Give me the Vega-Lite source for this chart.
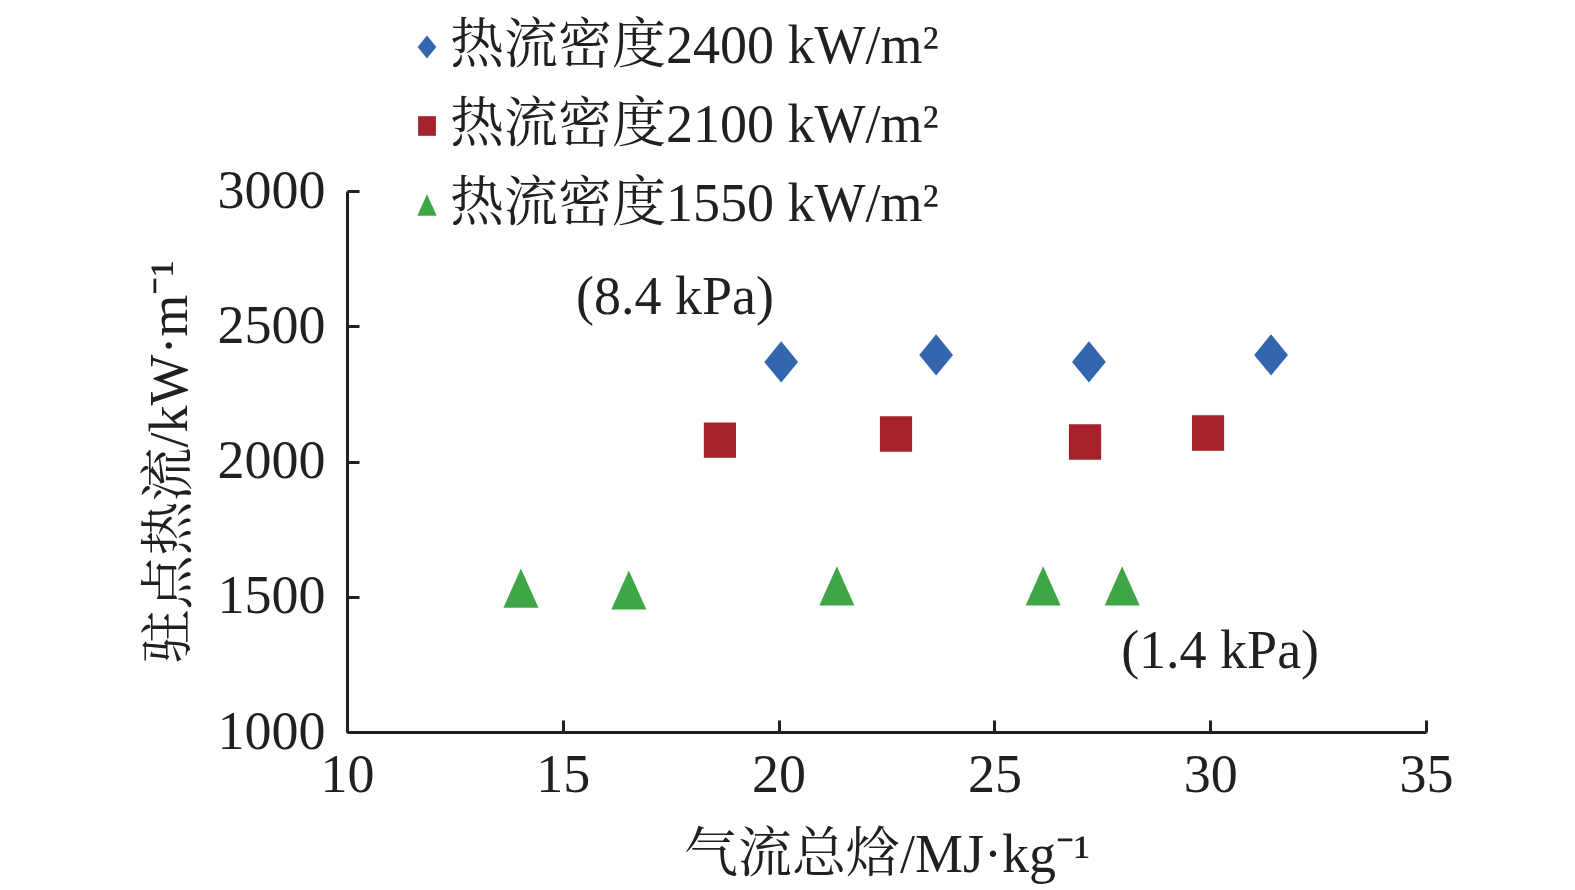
{
  "$schema": "https://vega.github.io/schema/vega-lite/v6.json",
  "width": 1079,
  "height": 541,
  "autosize": "none",
  "padding": {"left": 347, "top": 191, "right": 149, "bottom": 158},
  "background": "white",
  "config": {
    "view": {"stroke": null},
    "font": "Liberation Serif, Noto Serif CJK SC, Noto Sans CJK SC",
    "axis": {
      "grid": false,
      "domainColor": "#231f20",
      "domainWidth": 3,
      "tickColor": "#231f20",
      "tickWidth": 3,
      "tickSize": -12,
      "labelFontSize": 54,
      "labelColor": "#231f20",
      "labelPadding": 34,
      "labelFlush": false,
      "labelOverlap": false,
      "format": "d",
      "titleFontSize": 54,
      "titleFontWeight": "normal",
      "titleColor": "#231f20"
    }
  },
  "layer": [
    {
      "data": {
        "values": [
          {"series": "热流密度2400 kW/m²", "h": 20.06, "q": 2368},
          {"series": "热流密度2400 kW/m²", "h": 23.65, "q": 2394},
          {"series": "热流密度2400 kW/m²", "h": 27.19, "q": 2368},
          {"series": "热流密度2400 kW/m²", "h": 31.41, "q": 2394},
          {"series": "热流密度2100 kW/m²", "h": 18.64, "q": 2079},
          {"series": "热流密度2100 kW/m²", "h": 22.72, "q": 2102},
          {"series": "热流密度2100 kW/m²", "h": 27.10, "q": 2072},
          {"series": "热流密度2100 kW/m²", "h": 29.95, "q": 2105},
          {"series": "热流密度1550 kW/m²", "h": 14.03, "q": 1532},
          {"series": "热流密度1550 kW/m²", "h": 16.53, "q": 1525},
          {"series": "热流密度1550 kW/m²", "h": 21.35, "q": 1540},
          {"series": "热流密度1550 kW/m²", "h": 26.13, "q": 1540},
          {"series": "热流密度1550 kW/m²", "h": 27.96, "q": 1540}
        ]
      },
      "mark": {"type": "point", "filled": true, "opacity": 1, "size": 1700, "strokeWidth": 0},
      "encoding": {
        "x": {
          "field": "h",
          "type": "quantitative",
          "scale": {"domain": [10, 35], "nice": false, "zero": false},
          "axis": {"values": [10, 15, 20, 25, 30, 35], "title": "气流总焓/MJ·kg⁻¹", "labelPadding": 28, "titlePadding": 26}
        },
        "y": {
          "field": "q",
          "type": "quantitative",
          "scale": {"domain": [1000, 3000], "nice": false, "zero": false},
          "axis": {"values": [1000, 1500, 2000, 2500, 3000], "title": "驻点热流/kW·m⁻¹", "titlePadding": 20}
        },
        "color": {
          "field": "series",
          "type": "nominal",
          "scale": {
            "domain": ["热流密度2400 kW/m²", "热流密度2100 kW/m²", "热流密度1550 kW/m²"],
            "range": ["#3465af", "#a3222c", "#3fa646"]
          },
          "legend": {
            "title": null,
            "orient": "none",
            "legendX": 53,
            "legendY": -171,
            "labelFontSize": 54,
            "labelColor": "#231f20",
            "labelLimit": 0,
            "symbolSize": 520,
            "rowPadding": 25,
            "labelOffset": -4
          }
        },
        "shape": {
          "field": "series",
          "type": "nominal",
          "scale": {
            "domain": ["热流密度2400 kW/m²", "热流密度2100 kW/m²", "热流密度1550 kW/m²"],
            "range": ["M0,-1L0.82,0L0,1L-0.82,0Z", "M-0.78,-0.86L0.78,-0.86L0.78,0.86L-0.78,0.86Z", "M0,-0.95L0.85,0.95L-0.85,0.95Z"]
          },
          "legend": {
            "title": null,
            "orient": "none",
            "legendX": 53,
            "legendY": -171,
            "labelFontSize": 54,
            "labelColor": "#231f20",
            "labelLimit": 0,
            "symbolSize": 520,
            "rowPadding": 25,
            "labelOffset": -4
          }
        }
      }
    },
    {
      "data": {
        "values": [
          {"label": "(8.4 kPa)", "h": 17.6, "q": 2604},
          {"label": "(1.4 kPa)", "h": 30.23, "q": 1296}
        ]
      },
      "mark": {"type": "text", "fontSize": 54, "color": "#231f20", "baseline": "middle", "align": "center"},
      "encoding": {
        "x": {"field": "h", "type": "quantitative"},
        "y": {"field": "q", "type": "quantitative"},
        "text": {"field": "label"}
      }
    }
  ]
}
